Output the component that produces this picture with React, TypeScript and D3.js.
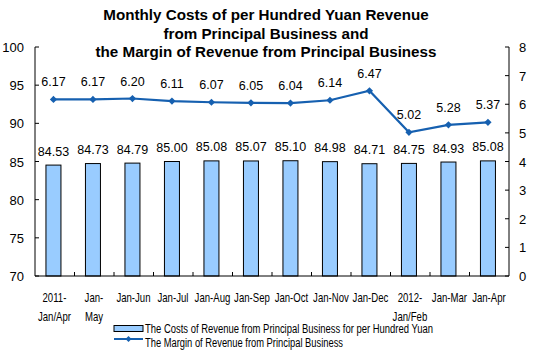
import React from "react";
import * as d3 from "d3";

const categories = [
  ["2011-", "Jan/Apr"], ["Jan-", "May"], ["Jan-Jun"], ["Jan-Jul"], ["Jan-Aug"], ["Jan-Sep"],
  ["Jan-Oct"], ["Jan-Nov"], ["Jan-Dec"], ["2012-", "Jan/Feb"], ["Jan-Mar"], ["Jan-Apr"],
];
const costs = [84.53, 84.73, 84.79, 85.0, 85.08, 85.07, 85.1, 84.98, 84.71, 84.75, 84.93, 85.08];
const margin = [6.17, 6.17, 6.2, 6.11, 6.07, 6.05, 6.04, 6.14, 6.47, 5.02, 5.28, 5.37];
const leftTicks = [70, 75, 80, 85, 90, 95, 100];
const rightTicks = [0, 1, 2, 3, 4, 5, 6, 7, 8];
const titleLines = [
  "Monthly Costs of per Hundred Yuan Revenue",
  "from Principal Business and",
  "the Margin of Revenue from Principal Business",
];
const legendItems = [
  "The Costs of Revenue from Principal Business for per Hundred Yuan",
  "The Margin of Revenue from Principal Business",
];

const W = 537, H = 357;
const L = 35, R = 509, T = 47, B = 276;
const BAR = "#99CCFF";
const LINE = "#1660B0";
const FONT = "Arial, 'Liberation Sans', sans-serif";
const SQ = 0.8;

export default function App() {
  const x = d3.scaleBand<number>().domain(d3.range(categories.length)).range([L, R]);
  const yL = d3.scaleLinear().domain([70, 100]).range([B, T]);
  const yR = d3.scaleLinear().domain([0, 8]).range([B, T]);
  const bw = 15;
  const cx = (i: number) => (x(i) as number) + x.bandwidth() / 2 - 1.3;
  const line = d3.line<number>().x((_, i) => cx(i)).y((d) => yR(d));
  const diamond = (px: number, py: number, s = 3.6) =>
    `M${px},${py - s}L${px + s},${py}L${px},${py + s}L${px - s},${py}Z`;

  return (
    <svg width={W} height={H} style={{ position: "absolute", left: 0, top: 0, background: "#fff" }}>
      {titleLines.map((t, i) => (
        <text key={i} x={266} y={20 + i * 18.5} textAnchor="middle" fontFamily={FONT} fontWeight="bold" fontSize={15.2} fill="#000">
          {t}
        </text>
      ))}
      {/* bars */}
      {costs.map((v, i) => (
        <g key={i}>
          <rect x={cx(i) - bw / 2} y={yL(v)} width={bw} height={B - yL(v)} fill={BAR} stroke="#000" strokeWidth={1} />
          <text x={cx(i)} y={yL(v) - 9.5} textAnchor="middle" fontFamily={FONT} fontSize={12.5} fill="#000">
            {v.toFixed(2)}
          </text>
        </g>
      ))}
      {/* axes */}
      <line x1={L} x2={L} y1={T} y2={B} stroke="#000" />
      <line x1={R} x2={R} y1={T} y2={B} stroke="#000" />
      <line x1={L} x2={R} y1={B} y2={B} stroke="#000" />
      {leftTicks.map((t) => (
        <g key={t}>
          <line x1={L} x2={L + 4} y1={yL(t)} y2={yL(t)} stroke="#000" />
          <text x={L - 11} y={yL(t) + 5} textAnchor="end" fontFamily={FONT} fontSize={13} fill="#000">{t}</text>
        </g>
      ))}
      {rightTicks.map((t) => (
        <g key={t}>
          <line x1={R - 4} x2={R} y1={yR(t)} y2={yR(t)} stroke="#000" />
          <text x={R + 10} y={yR(t) + 5} textAnchor="start" fontFamily={FONT} fontSize={13} fill="#000">{t}</text>
        </g>
      ))}
      {categories.map((_, i) =>
        i > 0 ? <line key={i} x1={x(i)} x2={x(i)} y1={B} y2={B - 4} stroke="#000" /> : null
      )}
      {categories.map((c, i) => (
        <g key={i} transform={`translate(${cx(i) + 1},302) scale(${SQ},1)`}>
          <text x={0} y={0} textAnchor="middle" fontFamily={FONT} fontSize={12} fill="#000">
            {c.map((s, j) => (
              <tspan key={j} x={0} dy={j === 0 ? 0 : 19}>{s}</tspan>
            ))}
          </text>
        </g>
      ))}
      {/* line */}
      <path d={line(margin) || ""} fill="none" stroke={LINE} strokeWidth={2.2} />
      {margin.map((v, i) => (
        <g key={i}>
          <path d={diamond(cx(i), yR(v))} fill={LINE} />
          <text x={cx(i)} y={yR(v) - 13} textAnchor="middle" fontFamily={FONT} fontSize={12.5} fill="#000">
            {v.toFixed(2)}
          </text>
        </g>
      ))}
      {/* legend */}
      <rect x={114} y={325.5} width={29} height={6} fill={BAR} stroke="#000" />
      <text x={145} y={333} fontFamily={FONT} fontSize={12} fill="#000" textLength={288} lengthAdjust="spacingAndGlyphs">{legendItems[0]}</text>
      <line x1={114} x2={143} y1={339} y2={339} stroke={LINE} strokeWidth={2} />
      <path d={diamond(128.5, 339, 3)} fill={LINE} />
      <text x={145} y={347} fontFamily={FONT} fontSize={12} fill="#000" textLength={198} lengthAdjust="spacingAndGlyphs">{legendItems[1]}</text>
    </svg>
  );
}
